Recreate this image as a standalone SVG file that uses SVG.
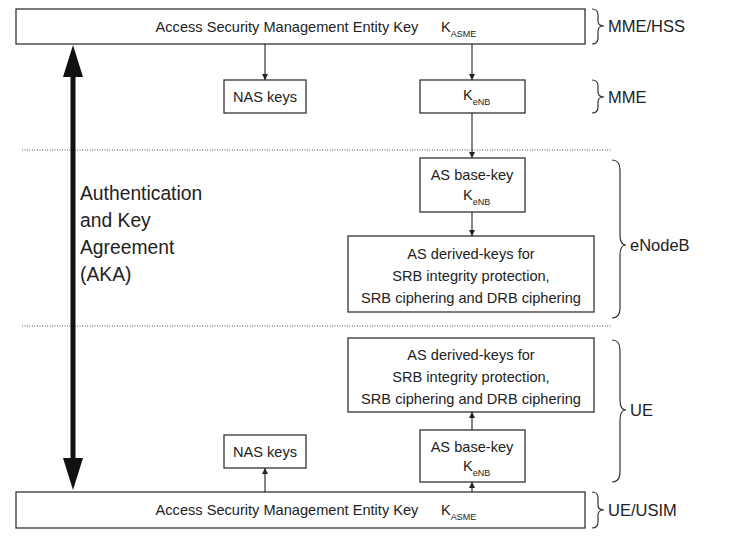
<svg xmlns="http://www.w3.org/2000/svg" width="745" height="538" viewBox="0 0 745 538">
  <defs>
    <marker id="ah" viewBox="0 0 10 10" refX="10" refY="5" markerWidth="6" markerHeight="7" markerUnits="userSpaceOnUse" orient="auto">
      <path d="M0,0 L10,5 L0,10 z" fill="#222"/>
    </marker>
  </defs>
  <style>
    .box{fill:#fff;stroke:#333;stroke-width:1.3}
    .t{font-family:"Liberation Sans",Arial,sans-serif;font-size:14.6px;fill:#222;text-anchor:middle}
    .tl{font-family:"Liberation Sans",Arial,sans-serif;font-size:14.6px;fill:#222}
    .sub{font-size:9px}
    .lbl{font-family:"Liberation Sans",Arial,sans-serif;font-size:16.5px;fill:#222}
    .aka{font-family:"Liberation Sans",Arial,sans-serif;font-size:19.3px;fill:#222}
    .conn{stroke:#222;stroke-width:1.1;fill:none;marker-end:url(#ah)}
    .brace{fill:none;stroke:#333;stroke-width:1.2}
    .dot{stroke:#555;stroke-width:1;stroke-dasharray:1 1.5}
  </style>

  <!-- section separators -->
  <line class="dot" x1="22" y1="150" x2="612" y2="150"/>
  <line class="dot" x1="22" y1="326" x2="612" y2="326"/>

  <!-- AKA double arrow -->
  <g id="aka">
    <line x1="73" y1="72" x2="73" y2="462" stroke="#111" stroke-width="5"/>
    <polygon points="73,45 63,77 83,77" fill="#111"/>
    <polygon points="73,490 63,458 83,458" fill="#111"/>
    <text class="aka" x="80" y="200">Authentication</text>
    <text class="aka" x="80" y="227">and Key</text>
    <text class="aka" x="80" y="254">Agreement</text>
    <text class="aka" x="80" y="281">(AKA)</text>
  </g>

  <!-- network side -->
  <g id="kasme-net">
    <rect class="box" x="16" y="9" width="569" height="35"/>
    <text class="t" x="287" y="32">Access Security Management Entity Key</text>
    <text class="tl" x="441" y="32">K<tspan class="sub" dy="5">ASME</tspan></text>
  </g>
  <g id="nas-net">
    <rect class="box" x="224" y="80" width="82" height="33"/>
    <text class="t" x="265" y="102">NAS keys</text>
  </g>
  <g id="kenb-mme">
    <rect class="box" x="420" y="80" width="105" height="33"/>
    <text class="tl" x="463" y="100">K<tspan class="sub" dy="5">eNB</tspan></text>
  </g>
  <g id="asbase-enb">
    <rect class="box" x="420" y="158" width="105" height="54"/>
    <text class="t" x="472" y="180">AS base-key</text>
    <text class="tl" x="463" y="200">K<tspan class="sub" dy="5">eNB</tspan></text>
  </g>
  <g id="derived-enb">
    <rect class="box" x="348" y="236" width="246" height="76"/>
    <text class="t" x="471" y="259">AS derived-keys for</text>
    <text class="t" x="471" y="281">SRB integrity protection,</text>
    <text class="t" x="471" y="303">SRB ciphering and DRB ciphering</text>
  </g>

  <!-- UE side -->
  <g id="derived-ue">
    <rect class="box" x="348" y="338" width="246" height="74"/>
    <text class="t" x="471" y="360">AS derived-keys for</text>
    <text class="t" x="471" y="382">SRB integrity protection,</text>
    <text class="t" x="471" y="404">SRB ciphering and DRB ciphering</text>
  </g>
  <g id="asbase-ue">
    <rect class="box" x="420" y="430" width="105" height="52"/>
    <text class="t" x="472" y="452">AS base-key</text>
    <text class="tl" x="463" y="471">K<tspan class="sub" dy="5">eNB</tspan></text>
  </g>
  <g id="nas-ue">
    <rect class="box" x="224" y="435" width="82" height="33"/>
    <text class="t" x="265" y="457">NAS keys</text>
  </g>
  <g id="kasme-ue">
    <rect class="box" x="16" y="492" width="569" height="36"/>
    <text class="t" x="287" y="515">Access Security Management Entity Key</text>
    <text class="tl" x="441" y="515">K<tspan class="sub" dy="5">ASME</tspan></text>
  </g>

  <!-- key derivation connectors -->
  <g id="connectors">
    <line class="conn" x1="265" y1="44" x2="265" y2="80"/>
    <line class="conn" x1="472" y1="44" x2="472" y2="80"/>
    <line class="conn" x1="472" y1="113" x2="472" y2="158"/>
    <line class="conn" x1="472" y1="212" x2="472" y2="236"/>
    <line class="conn" x1="472" y1="430" x2="472" y2="412"/>
    <line class="conn" x1="265" y1="492" x2="265" y2="468"/>
    <line class="conn" x1="472" y1="492" x2="472" y2="482"/>
  </g>

  <!-- domain braces and labels -->
  <g id="dom-mmehss">
    <path class="brace" d="M592,9 Q598,9 598,15 L598,21 Q598,26 604,26 Q598,26 598,31 L598,38 Q598,44 592,44"/>
    <text class="lbl" x="608" y="32">MME/HSS</text>
  </g>
  <g id="dom-mme">
    <path class="brace" d="M592,80 Q598,80 598,86 L598,92 Q598,97 604,97 Q598,97 598,102 L598,107 Q598,113 592,113"/>
    <text class="lbl" x="608" y="103">MME</text>
  </g>
  <g id="dom-enb">
    <path class="brace" d="M612,160 Q620,160 620,170 L620,235 Q620,245 626,245 Q620,245 620,255 L620,308 Q620,318 612,318"/>
    <text class="lbl" x="630" y="251">eNodeB</text>
  </g>
  <g id="dom-ue">
    <path class="brace" d="M612,340 Q620,340 620,350 L620,400 Q620,410 626,410 Q620,410 620,420 L620,472 Q620,482 612,482"/>
    <text class="lbl" x="630" y="416">UE</text>
  </g>
  <g id="dom-usim">
    <path class="brace" d="M592,492 Q598,492 598,498 L598,505 Q598,510 604,510 Q598,510 598,515 L598,522 Q598,528 592,528"/>
    <text class="lbl" x="608" y="516">UE/USIM</text>
  </g>
</svg>
